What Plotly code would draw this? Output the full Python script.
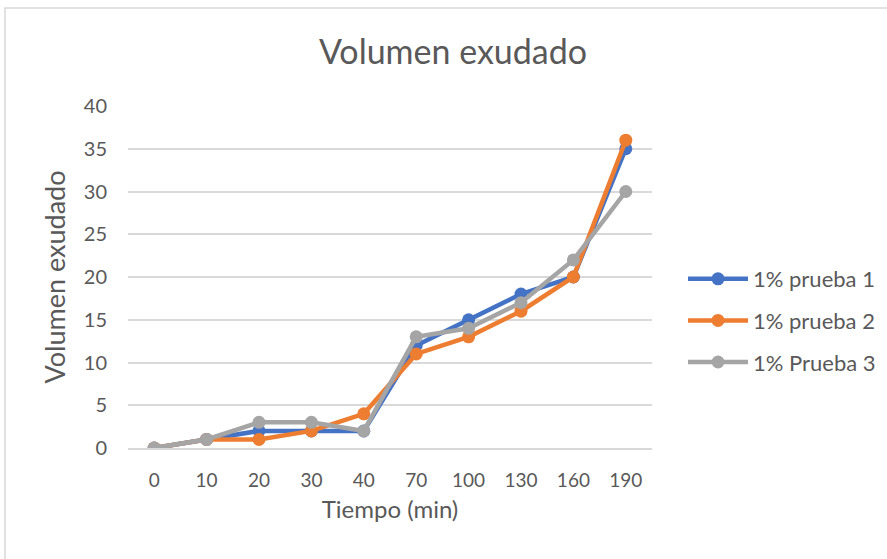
import plotly.graph_objects as go

# Sampling times (min) and exuded volume for each trial
tiempos = ["0", "10", "20", "30", "40", "70", "100", "130", "160", "190"]
prueba_1 = [0, 1, 2, 2, 2, 12, 15, 18, 20, 35]
prueba_2 = [0, 1, 1, 2, 4, 11, 13, 16, 20, 36]
prueba_3 = [0, 1, 3, 3, 2, 13, 14, 17, 22, 30]

series = [
    ("1% prueba 1", prueba_1, "#4472C4"),
    ("1% prueba 2", prueba_2, "#ED7D31"),
    ("1% Prueba 3", prueba_3, "#A5A5A5"),
]

W, H = 887, 559
L, R, T, B = 128, 652, 106, 448

fig = go.Figure()
for i, (name, vals, color) in enumerate(series):
    fig.add_trace(go.Scatter(
        x=tiempos, y=vals, name=name, mode="lines+markers",
        legendgroup=f"g{i}",
        line=dict(color=color, width=4.5),
        marker=dict(color=color, size=13),
    ))

font_family = "Lato, 'Open Sans', sans-serif"
text_color = "#595959"

def px_x(p):
    return (p - L) / (R - L)

def px_y(p):
    return (B - p) / (B - T)

fig.update_layout(
    width=W, height=H,
    margin=dict(l=L, r=W - R, t=T, b=H - B, pad=0, autoexpand=False),
    paper_bgcolor="white", plot_bgcolor="white",
    font=dict(family=font_family, color=text_color, size=18),
    title=dict(text="Volumen exudado", x=453 / W, xanchor="center",
               y=1 - 52 / H, yanchor="middle",
               font=dict(size=34, color=text_color, family=font_family)),
    showlegend=True,
    legend=dict(x=px_x(683), y=px_y(258), xanchor="left", yanchor="top",
                font=dict(size=22, color=text_color), itemwidth=60,
                tracegroupgap=10, bgcolor="rgba(0,0,0,0)"),
    xaxis=dict(
        type="category", range=[-0.5, 9.5], showgrid=False, zeroline=False,
        showline=True, linecolor="#d9d9d9", linewidth=1.5,
        ticks="", ticklabelstandoff=14, tickfont=dict(size=19, color=text_color),
        title=dict(text="Tiempo (min)", font=dict(size=24, color=text_color), standoff=12),
    ),
    yaxis=dict(
        range=[0, 40], dtick=5, showgrid=True, gridcolor="#d9d9d9", gridwidth=1.5,
        zeroline=False, showline=False, ticks="", ticklabelstandoff=20,
        tickfont=dict(size=20, color=text_color),
        title=dict(text="Volumen exudado", font=dict(size=27, color=text_color), standoff=10),
    ),
    shapes=[dict(type="rect", xref="paper", yref="paper",
                 x0=px_x(5), x1=px_x(W + 5), y0=px_y(H + 5), y1=px_y(8),
                 line=dict(color="#d9d9d9", width=1.5), fillcolor="rgba(0,0,0,0)",
                 layer="below")],
)

fig.write_html("out.html")
